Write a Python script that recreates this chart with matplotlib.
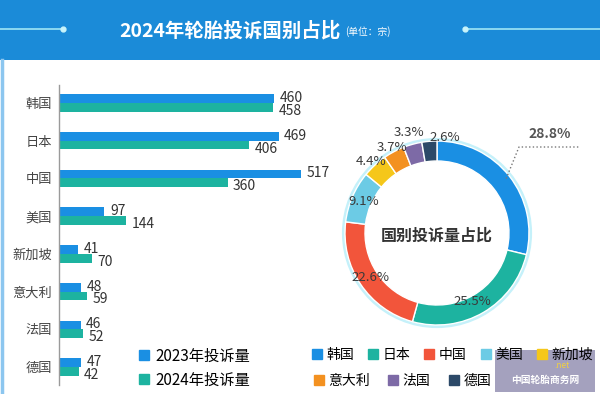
import numpy as np
import matplotlib
matplotlib.use("Agg")
import matplotlib.pyplot as plt
from matplotlib.lines import Line2D
from matplotlib.patches import Rectangle, Circle

plt.rcParams['font.family'] = ['Noto Sans CJK SC', 'DejaVu Sans']

# ---- data ----
countries = ['韩国', '日本', '中国', '美国', '新加坡', '意大利', '法国', '德国']
v2023 = [460, 469, 517, 97, 41, 48, 46, 47]
v2024 = [458, 406, 360, 144, 70, 59, 52, 42]
series_names = ['2023年投诉量', '2024年投诉量']
title = '2024年轮胎投诉国别占比'
unit = '(单位：宗)'
donut_title = '国别投诉量占比'
pie_colors = ['#1a8fe3', '#1db3a0', '#f2553b', '#6ccbe5', '#f5c71a', '#f39120', '#7d6aa6', '#2c4968']
c2023 = '#1a8fe3'
c2024 = '#1db3a0'

W, H = 600, 394
fig = plt.figure(figsize=(W / 100, H / 100), dpi=100)
fig.patch.set_facecolor('white')

def fx(x):
    return x / W

def fy(y):
    return 1 - y / H

# ---- header bar ----
fig.add_artist(Rectangle((0, fy(60)), 1, 60 / H, transform=fig.transFigure,
                         facecolor='#1b8bd8', edgecolor='none', zorder=0))
fig.add_artist(Line2D([fx(2), fx(2)], [fy(60), 0], transform=fig.transFigure,
                      color='#8cc6ef', lw=2.5))
for xs, mk in (([0, 63], 63), ([465, 600], 465)):
    fig.add_artist(Line2D([fx(xs[0]), fx(xs[1])], [fy(29), fy(29)], transform=fig.transFigure,
                          color='#9fe6f5', lw=1.2))
    fig.add_artist(Line2D([fx(mk)], [fy(29)], transform=fig.transFigure, marker='o',
                          markersize=3.5, color='#c8f4fb', linestyle=''))
fig.text(fx(230), fy(31), title, ha='center', va='center', color='white',
         fontsize=14, fontweight='bold')
fig.text(fx(345), fy(32), unit, ha='left', va='center', color='white', fontsize=7)

# ---- bar chart ----
ax = fig.add_axes([fx(59), fy(385), (301 - 59) / W, (385 - 85) / H])
ax.set_xlim(0, 517)
ax.set_ylim(7.48, -0.48)
y = np.arange(len(countries))
bh = 0.23
ax.barh(y - bh / 2, v2023, height=bh, color=c2023, label=series_names[0])
ax.barh(y + bh / 2, v2024, height=bh, color=c2024, label=series_names[1])
for i in range(len(countries)):
    ax.annotate(str(v2023[i]), xy=(v2023[i], y[i] - bh / 2), xytext=(4, 0.5),
                textcoords='offset points', ha='left', va='center', fontsize=10, color='#333333')
    ax.annotate(str(v2024[i]), xy=(v2024[i], y[i] + bh / 2), xytext=(4, -2.5),
                textcoords='offset points', ha='left', va='center', fontsize=10, color='#333333')
ax.set_yticks(y)
ax.set_yticklabels(countries, fontsize=9.5, color='#444444')
ax.tick_params(axis='y', length=0, pad=5)
ax.set_xticks([])
for s in ['top', 'right', 'bottom']:
    ax.spines[s].set_visible(False)
ax.spines['left'].set_color('#9a9a9a')
ax.spines['left'].set_linewidth(1)
ax.set_facecolor('none')

h_bar = [Line2D([], [], marker='s', linestyle='', color=c, markersize=7) for c in (c2023, c2024)]
fig.legend(h_bar, series_names, loc='center left', bbox_to_anchor=(fx(138), fy(368)),
           frameon=False, fontsize=11, handlelength=0.8, handletextpad=0.35,
           labelspacing=0.45, borderpad=0, borderaxespad=0)

# ---- donut ----
cx, cy, R, ring = 437, 233, 92, 20
S = 110
ax2 = fig.add_axes([fx(cx - S), fy(cy + S), 2 * S / W, 2 * S / H])
ax2.add_patch(Circle((0, 0), R + 1, facecolor='none', edgecolor='#c5f1fa', lw=3, zorder=0))
wedges, _ = ax2.pie(v2024, radius=R, startangle=90, counterclock=False, colors=pie_colors,
                    wedgeprops=dict(width=ring, edgecolor='white', linewidth=1))
ax2.set_xlim(-S, S)
ax2.set_ylim(-S, S)
ax2.set_aspect('equal')
ax2.axis('off')

total = sum(v2024)
pcts = [v / total * 100 for v in v2024]
n = len(wedges)
for i, (w, p) in enumerate(zip(wedges, pcts)):
    ang = np.deg2rad((w.theta1 + w.theta2) / 2)
    lab = f'{p:.1f}%'
    if i == 0:
        p0 = (88 * np.cos(ang), 88 * np.sin(ang))
        p1 = (82, 86)
        p2 = (143, 86)
        ax2.plot([p0[0], p1[0], p2[0]], [p0[1], p1[1], p2[1]], ls=':', lw=1,
                 color='#777777', clip_on=False)
        ax2.text(113, 92, lab, ha='center', va='bottom', fontsize=10, fontweight='bold',
                 color='#555555', clip_on=False)
        continue
    ha = 'center'
    dx = 0
    if p > 5:
        r = 80
        if i == 1:
            dx = -5
    elif i == n - 1:
        r, ha = 96, 'left'
    elif i == n - 2:
        r = 104
    else:
        r = 97
    ax2.text(r * np.cos(ang) + dx, r * np.sin(ang), lab, ha=ha, va='center', fontsize=9.5,
             color='#3a3a3a', clip_on=False)

ax2.text(0, -3, donut_title, ha='center', va='center', fontsize=11.5, fontweight='bold',
         color='#333333')

h_pie = [Line2D([], [], marker='s', linestyle='', color=c, markersize=7) for c in pie_colors]
fig.legend(h_pie[:5], countries[:5], loc='center left', bbox_to_anchor=(fx(312), fy(355)),
           ncol=5, frameon=False, fontsize=10, handlelength=0.7, handletextpad=0.35,
           columnspacing=1.0, borderpad=0, borderaxespad=0)
fig.legend(h_pie[5:], countries[5:], loc='center left', bbox_to_anchor=(fx(314), fy(381)),
           ncol=3, frameon=False, fontsize=10, handlelength=0.7, handletextpad=0.35,
           columnspacing=1.3, borderpad=0, borderaxespad=0)

# ---- watermark ----
fig.add_artist(Rectangle((fx(495), fy(392)), 100 / W, 42 / H, transform=fig.transFigure,
                         facecolor='#8e8aae', edgecolor='none', alpha=0.8, zorder=5))
fig.text(fx(545), fy(380), '中国轮胎商务网', ha='center', va='center', color='white',
         fontsize=7, fontweight='bold', zorder=6)
fig.text(fx(562), fy(366), '.net', ha='center', va='center', color='#f0d040',
         fontsize=6, fontstyle='italic', zorder=6)

fig.savefig('out.png', dpi=100)
